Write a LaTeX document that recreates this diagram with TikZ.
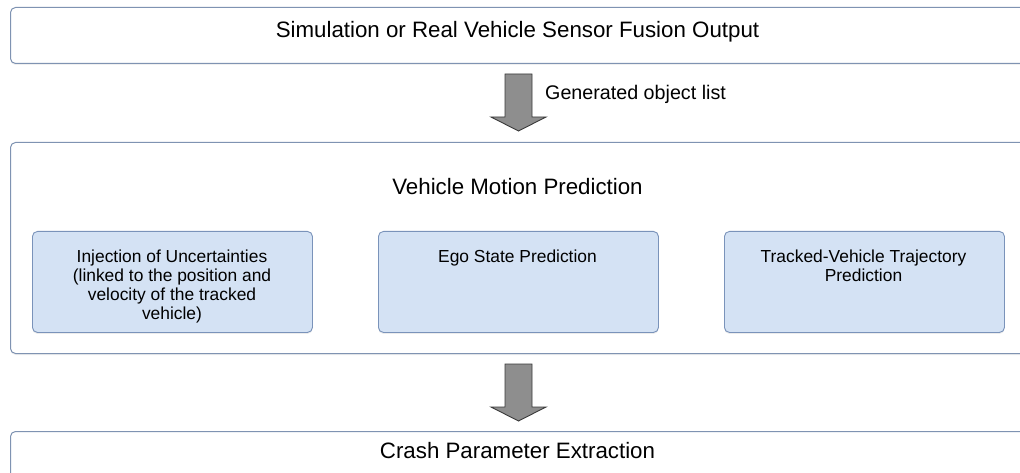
\documentclass[tikz,border=0pt]{standalone}
\usepackage{fontspec}
\setmainfont{Liberation Sans}
\usetikzlibrary{shadows}

\definecolor{frameline}{HTML}{7F93B2}
\definecolor{blockfill}{HTML}{D4E2F4}
\definecolor{blockline}{HTML}{7A93BA}
\definecolor{arrowfill}{HTML}{8E8E8E}
\definecolor{arrowline}{HTML}{3A3A3A}

\tikzset{
  stage/.style={draw=frameline, line width=1pt, fill=white, rounded corners=5pt,
    drop shadow={shadow xshift=0pt, shadow yshift=-1.5pt, opacity=0.12},
    anchor=north west, inner sep=0pt},
  block/.style={draw=blockline, line width=0.9pt, fill=blockfill, rounded corners=5pt,
    drop shadow={shadow xshift=0pt, shadow yshift=-1.5pt, opacity=0.15},
    anchor=north west, inner sep=0pt, minimum width=280pt, minimum height=101pt},
  title/.style={anchor=base, inner sep=0pt, font=\fontsize{22.3}{26}\selectfont},
  % multi-line text: the base anchor sits on the last line's baseline
  blocktext/.style={anchor=base, inner sep=0pt, align=center,
    font=\fontsize{17.4}{19}\selectfont},
  flowlabel/.style={anchor=base west, inner sep=0pt, font=\fontsize{19.7}{22}\selectfont},
  blockarrow/.style={draw=arrowline, line width=0.9pt, fill=arrowfill, line join=miter}
}

\begin{document}
\begin{tikzpicture}[x=1pt, y=-1pt]
\useasboundingbox (0,0) rectangle (1020,473);
\clip (0,0) rectangle (1020,473);

% stages
\node[stage, minimum width=1015pt, minimum height=56pt] (fusion) at (10,7) {};
\node[stage, minimum width=1015pt, minimum height=211pt] (motion) at (10,142) {};
\node[stage, minimum width=1015pt, minimum height=80pt] (crash) at (10,431) {};

\node[title] (fusiontxt) at (517.5,37.5) {Simulation or Real Vehicle Sensor Fusion Output};
\node[title] (motiontxt) at (517.5,195) {Vehicle Motion Prediction};
\node[title] (crashtxt) at (517.5,458) {Crash Parameter Extraction};

% prediction blocks
\node[block] (inject) at (32,231) {};
\node[block] (ego) at (378,231) {};
\node[block] (track) at (724,231) {};

\node[blocktext] (injecttxt) at (172,319.5)
  {Injection of Uncertainties\\(linked to the position and\\velocity of the tracked\\vehicle)};
\node[blocktext] (egotxt) at (517.5,262) {Ego State Prediction};
\node[blocktext] (tracktxt) at (863.5,281) {Tracked-Vehicle Trajectory\\Prediction};

% block arrows between stages
\draw[blockarrow] (505,74) -- (532,74) -- (532,117) -- (546,117) -- (518.5,131)
  -- (491,117) -- (505,117) -- cycle;
\draw[blockarrow] (505,364) -- (532,364) -- (532,407) -- (546,407) -- (518.5,421)
  -- (491,407) -- (505,407) -- cycle;

\node[flowlabel] (objlist) at (545,99.5) {Generated object list};
\end{tikzpicture}
\end{document}
